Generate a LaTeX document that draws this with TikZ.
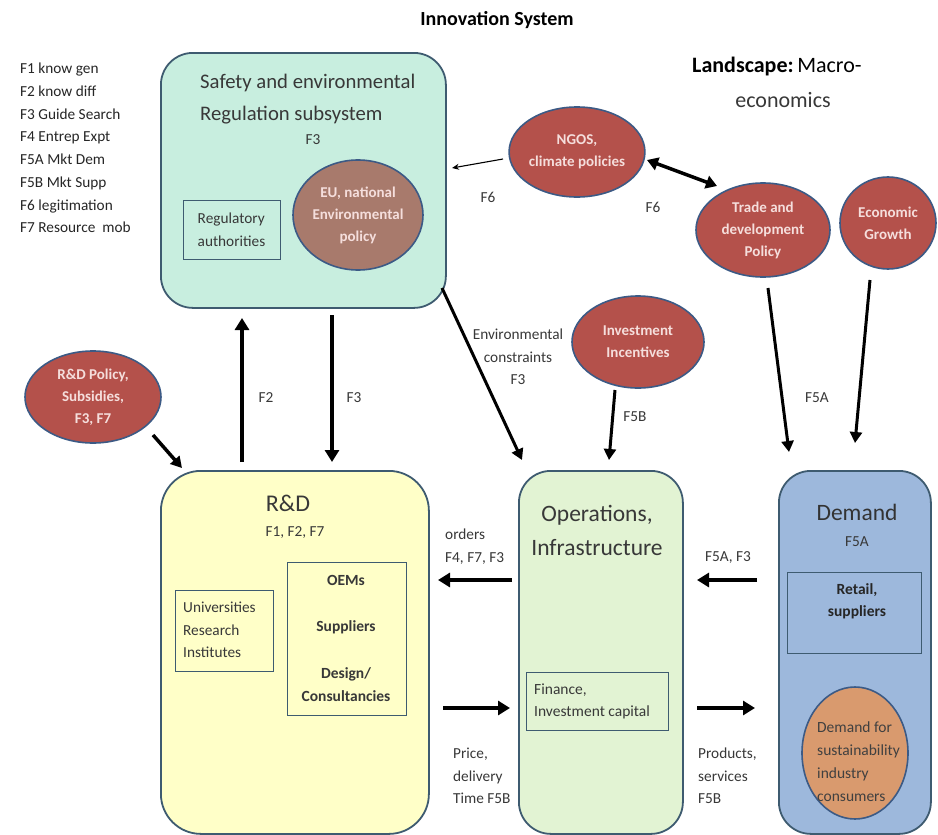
\documentclass[tikz,border=0pt]{standalone}
\usepackage{fontspec}
\setmainfont{Carlito}
\usetikzlibrary{shapes.geometric,arrows.meta}
\definecolor{bord}{HTML}{3E5B70}
\definecolor{mint}{HTML}{C8EEDF}
\definecolor{yel}{HTML}{FFFFC8}
\definecolor{lgreen}{HTML}{E2F3D3}
\definecolor{blu}{HTML}{9DB8DC}
\definecolor{redell}{HTML}{B4514B}
\definecolor{ellbord}{HTML}{3C5A85}
\definecolor{brownell}{HTML}{A87A6C}
\definecolor{tanell}{HTML}{D99A6E}
\definecolor{txt}{HTML}{383838}
\definecolor{elltxt}{HTML}{F5DEDC}
\begin{document}
\begin{tikzpicture}[x=1pt,y=-1pt,
 bigbox/.style={draw=bord, line width=1.8pt, rounded corners=32pt, minimum width=#1, inner sep=0pt, anchor=north west},
 subbox/.style={draw=bord, line width=1pt, inner sep=0pt},
 redel/.style={ellipse, draw=ellbord, line width=1.6pt, fill=redell, text=elltxt, font=\fontsize{15}{22}\selectfont\bfseries, align=center, inner sep=0pt},
 bigarrow/.style={line width=4pt, -{Triangle[length=12pt,width=14pt]}},
 lbl/.style={text=txt, font=\fontsize{15.3}{22.7}\selectfont, align=left, inner sep=0pt},
 lblc/.style={text=txt, font=\fontsize{15.3}{22.7}\selectfont, align=center, inner sep=0pt},
 head/.style={text=txt, inner sep=0pt}
]
\useasboundingbox (0,0) rectangle (938,835);
\fill[white] (0,0) rectangle (938,835);

% title and legend
\node[inner sep=0pt, font=\fontsize{20}{22}\selectfont\bfseries] (title) at (497,20) {Innovation System};
\node[lbl, anchor=west, text=black!85] (legend) at (20,148) {F1 know gen\\F2 know diff\\F3 Guide Search\\F4 Entrep Expt\\F5A Mkt Dem\\F5B Mkt Supp\\F6 legitimation\\F7 Resource\ \ mob};

% landscape
\node[inner sep=0pt, anchor=west, font=\fontsize{22}{24}\selectfont] (land) at (692,67) {\textbf{Landscape:}\,Macro-};
\node[inner sep=0pt, font=\fontsize{22}{24}\selectfont, text=txt] (econ) at (783,100) {economics};

% safety box
\node[bigbox=285pt, fill=mint, minimum height=255pt] (safety) at (160,52) {};
\node[head, anchor=west, font=\fontsize{20.7}{24}\selectfont] (s1) at (200,83) {Safety and environmental};
\node[head, anchor=west, font=\fontsize{20.7}{24}\selectfont] (s2) at (200,115) {Regulation subsystem};
\node[lblc] (sf3) at (313,140) {F3};
\node[subbox, minimum width=97pt, minimum height=59pt] (reg) at (231.5,229.5) {};
\node[lbl] (regt) at (231.5,229.5) {Regulatory\\authorities};
\node[redel, fill=brownell, minimum width=130pt, minimum height=110pt] (eu) at (358,215) {EU, national\\Environmental\\policy};

% landscape ellipses
\node[redel, minimum width=134pt, minimum height=90pt] (ngos) at (577,152) {NGOS,\\climate policies};
\node[redel, minimum width=134pt, minimum height=94pt] (trade) at (763,230) {Trade and\\development\\Policy};
\node[redel, minimum width=96pt, minimum height=92pt] (growth) at (888,223) {Economic\\Growth};
\node[redel, minimum width=132pt, minimum height=92pt] (invest) at (638,342) {Investment\\Incentives};
\node[redel, minimum width=136pt, minimum height=92pt] (rdpol) at (93,397) {R\&D Policy,\\Subsidies,\\F3, F7};

% bottom boxes
\node[bigbox=268pt, fill=yel, minimum height=363pt, rounded corners=40pt] (rd) at (160,470) {};
\node[head, font=\fontsize{24}{26}\selectfont] (rdt) at (288,503) {R\&D};
\node[lblc] (rdf) at (295,533) {F1, F2, F7};
\node[subbox, minimum width=98pt, minimum height=81pt] (uni) at (224,630.5) {};
\node[lbl, anchor=west] (unit) at (183,630) {Universities\\Research\\Institutes};
\node[subbox, minimum width=119pt, minimum height=153pt] (oem) at (346.5,638.5) {};
\node[lblc, font=\fontsize{15.5}{23}\selectfont\bfseries] (oem1) at (346,580) {OEMs};
\node[lblc, font=\fontsize{15.5}{23}\selectfont\bfseries] (oem2) at (346,627) {Suppliers};
\node[lblc, font=\fontsize{15.5}{23}\selectfont\bfseries] (oem3) at (346,685) {Design/\\Consultancies};

\node[bigbox=164pt, fill=lgreen, minimum height=363pt] (ops) at (518,470) {};
\node[head, align=center, font=\fontsize{23.5}{34}\selectfont] (opst) at (597,530) {Operations,\\Infrastructure};
\node[subbox, minimum width=142pt, minimum height=58pt] (fin) at (597,701) {};
\node[lbl, anchor=west, font=\fontsize{15.5}{22}\selectfont] (fint) at (534,701) {Finance,\\Investment capital};

\node[bigbox=152pt, fill=blu, minimum height=363pt] (dem) at (778,470) {};
\node[head, text=black!80, font=\fontsize{23.5}{26}\selectfont] (demt) at (857,512) {Demand};
\node[lblc] (demf) at (857,542) {F5A};
\node[subbox, minimum width=134pt, minimum height=81pt] (ret) at (854,612.5) {};
\node[lblc, text=black!85, font=\fontsize{15.5}{22}\selectfont\bfseries] (rett) at (857,601) {Retail,\\suppliers};
\node[ellipse, draw=ellbord, line width=1.6pt, fill=tanell, minimum width=106pt, minimum height=132pt, inner sep=0pt] (dfs) at (855,753) {};
\node[lbl, anchor=west, text=black!75, font=\fontsize{15.5}{23}\selectfont] (dfst) at (817,762) {Demand for\\sustainability\\industry\\consumers};

% arrow end points
\coordinate (a1s) at (503,159); \coordinate (a1e) at (452,168);
\coordinate (a2s) at (647,160); \coordinate (a2e) at (717,186);
\coordinate (envs) at (442,288); \coordinate (enve) at (522,460);
\coordinate (invs) at (615,390); \coordinate (inve) at (609,460);
\coordinate (trs) at (768,288); \coordinate (tre) at (789,452);
\coordinate (ecs) at (870,280); \coordinate (ece) at (855,443);
\coordinate (rps) at (153,435); \coordinate (rpe) at (182,468);
\coordinate (f2s) at (242,462); \coordinate (f2e) at (242,318);
\coordinate (f3s) at (332,315); \coordinate (f3e) at (332,462);
\coordinate (ors) at (512,580); \coordinate (ore) at (438,580);
\coordinate (prs) at (443,708); \coordinate (pre) at (510,708);
\coordinate (das) at (757,580); \coordinate (dae) at (697,580);
\coordinate (pds) at (697,708); \coordinate (pde) at (755,708);

\draw[line width=1.1pt, -{Stealth[length=7pt,width=6pt]}] (a1s) -- (a1e);
\draw[line width=3.5pt, {Triangle[length=11pt,width=13pt]}-{Triangle[length=11pt,width=13pt]}] (a2s) -- (a2e);
\draw[line width=3pt, -{Triangle[length=11pt,width=12pt]}] (envs) -- (enve);
\draw[line width=3pt, -{Triangle[length=11pt,width=12pt]}] (invs) -- (inve);
\draw[line width=3pt, -{Triangle[length=11pt,width=12pt]}] (trs) -- (tre);
\draw[line width=3pt, -{Triangle[length=11pt,width=12pt]}] (ecs) -- (ece);
\draw[line width=3.5pt, -{Triangle[length=11pt,width=12pt]}] (rps) -- (rpe);
\draw[bigarrow] (f2s) -- (f2e);
\draw[bigarrow] (f3s) -- (f3e);
\draw[bigarrow] (ors) -- (ore);
\draw[bigarrow] (prs) -- (pre);
\draw[bigarrow] (das) -- (dae);
\draw[bigarrow] (pds) -- (pde);

% connector labels
\node[lblc] (l6a) at (488,197) {F6};
\node[lblc] (l6b) at (653,207) {F6};
\node[lblc] (lenv) at (518,357) {Environmental\\constraints\\F3};
\node[lblc] (l5b) at (635,417) {F5B};
\node[lblc] (l5a) at (817,398) {F5A};
\node[lblc] (lf2) at (266,398) {F2};
\node[lblc] (lf3) at (354,398) {F3};
\node[lbl, anchor=west] (lord) at (445,546.5) {orders\\F4, F7, F3};
\node[lbl, anchor=west] (lprice) at (453,776) {Price,\\delivery\\Time F5B};
\node[lblc] (lda) at (728,558) {F5A, F3};
\node[lbl, anchor=west] (lprod) at (698,776) {Products,\\services\\F5B};
\end{tikzpicture}
\end{document}
